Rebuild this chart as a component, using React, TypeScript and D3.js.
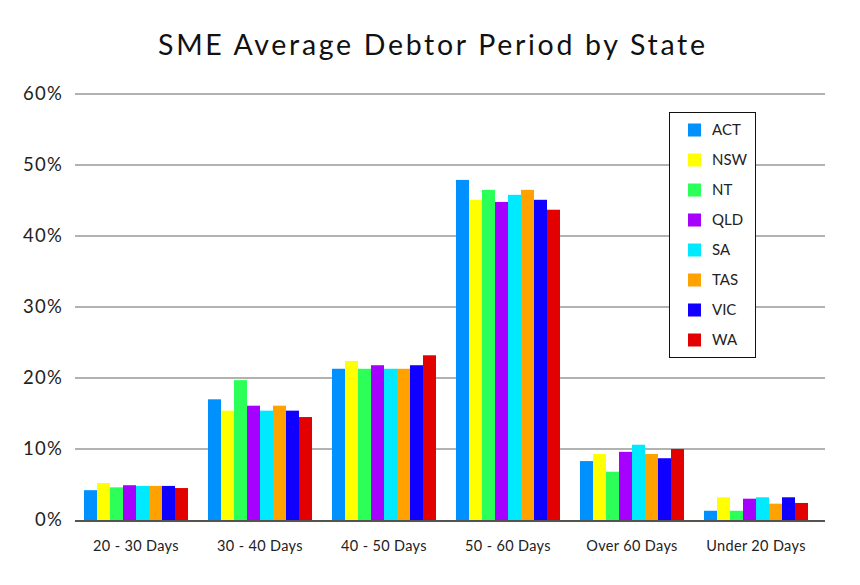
import React from "react";
import * as d3 from "d3";

const categories = ["20 - 30 Days", "30 - 40 Days", "40 - 50 Days", "50 - 60 Days", "Over 60 Days", "Under 20 Days"];
const states = ["ACT", "NSW", "NT", "QLD", "SA", "TAS", "VIC", "WA"];
const colors = ["#0091ff", "#ffff00", "#2cff57", "#a600ff", "#00eaff", "#ffa200", "#0f00ff", "#e20000"];
const ACT = [4.2, 17.0, 21.3, 47.9, 8.3, 1.3];
const NSW = [5.2, 15.4, 22.4, 45.1, 9.3, 3.2];
const NT = [4.6, 19.7, 21.3, 46.5, 6.8, 1.3];
const QLD = [4.9, 16.1, 21.8, 44.8, 9.6, 3.0];
const SA = [4.8, 15.4, 21.3, 45.8, 10.6, 3.2];
const TAS = [4.8, 16.1, 21.3, 46.5, 9.3, 2.3];
const VIC = [4.8, 15.4, 21.8, 45.1, 8.7, 3.2];
const WA = [4.5, 14.5, 23.2, 43.7, 10.0, 2.4];
const series = [ACT, NSW, NT, QLD, SA, TAS, VIC, WA];
const yTicks = [0, 10, 20, 30, 40, 50, 60];

const W = 860, H = 585;
const FONT = "Lato, 'Open Sans', sans-serif";

export default function App() {
  const y = d3.scaleLinear().domain([0, 60]).range([520, 94]);
  const x0 = d3.scaleBand<string>().domain(categories).range([74, 818]).paddingInner(20 / 124).paddingOuter(10 / 124);
  const x1 = d3.scaleBand<string>().domain(states).range([0, x0.bandwidth()]);
  const gridX1 = 75, gridX2 = 825;

  return (
    <svg width={W} height={H} style={{ position: "absolute", left: 0, top: 0, background: "#fff" }} fontFamily={FONT}>
      <rect width={W} height={H} fill="#fff" />
      <text x={158} y={54.5} fontSize={28.5} fill="#111" textLength={547} lengthAdjust="spacing">SME Average Debtor Period by State</text>
      {yTicks.map((t) => (
        <g key={t}>
          {t > 0 && <line x1={gridX1} x2={gridX2} y1={y(t)} y2={y(t)} stroke="#666660" strokeWidth={1.2} />}
          <text x={63} y={y(t)} dy="0.35em" textAnchor="end" fontSize={18.5} letterSpacing={1.2} fill="#222">{t}%</text>
        </g>
      ))}
      {categories.map((c, ci) => (
        <g key={c} transform={`translate(${x0(c)},0)`}>
          {states.map((s, si) => (
            <rect key={s} x={x1(s)} y={y(series[si][ci])} width={x1.bandwidth()} height={y(0) - y(series[si][ci])} fill={colors[si]} />
          ))}
        </g>
      ))}
      <line x1={gridX1} x2={gridX2} y1={y(0) + 1} y2={y(0) + 1} stroke="#555550" strokeWidth={2.2} />
      {categories.map((c) => (
        <text key={c} x={(x0(c) as number) + x0.bandwidth() / 2} y={551} textAnchor="middle" fontSize={14.5} letterSpacing={0.35} fill="#222">{c}</text>
      ))}
      <g>
        <rect x={669.5} y={112.5} width={86} height={245} fill="#fff" stroke="#111" strokeWidth={1} />
        {states.map((s, i) => (
          <g key={s} transform={`translate(688,${130 + i * 30})`}>
            <rect x={0} y={-6.5} width={13} height={13} fill={colors[i]} />
            <text x={24} y={0} dy="0.36em" fontSize={15} fill="#222">{s}</text>
          </g>
        ))}
      </g>
    </svg>
  );
}
